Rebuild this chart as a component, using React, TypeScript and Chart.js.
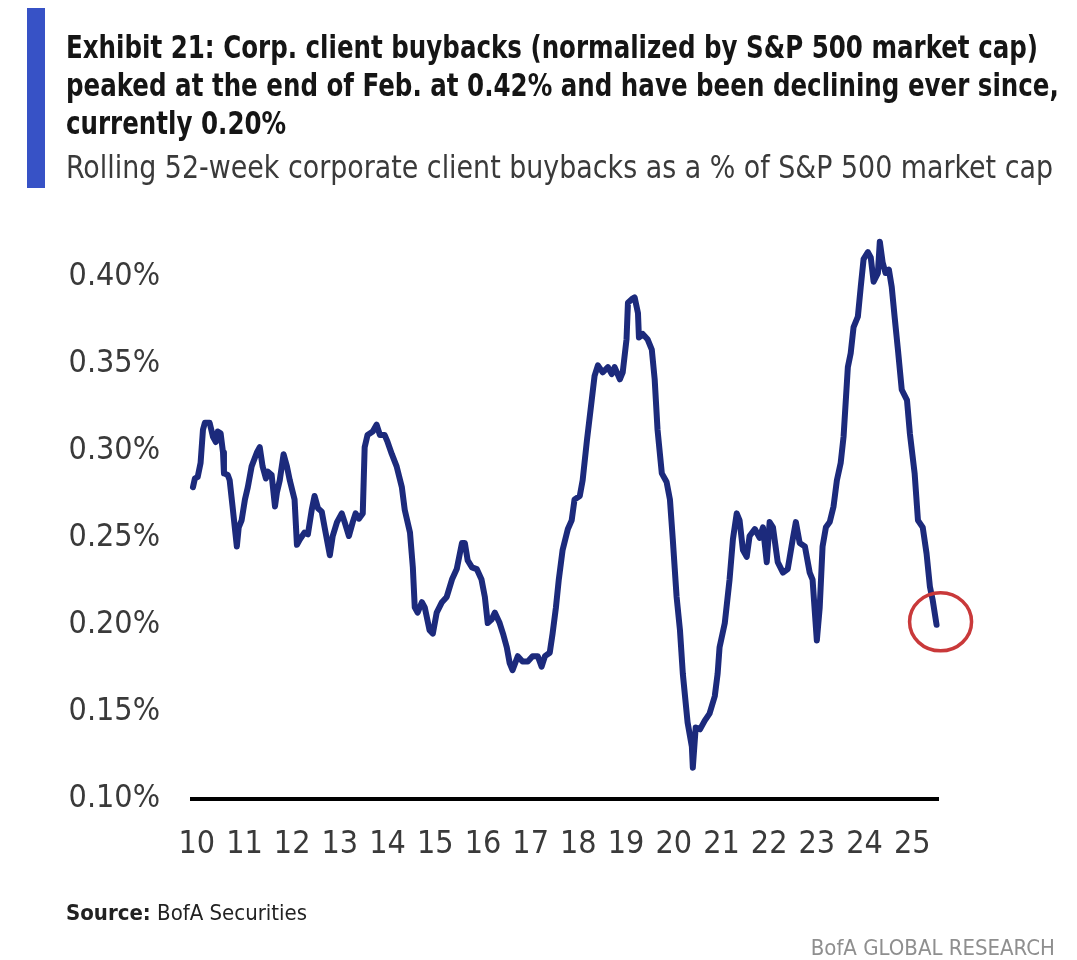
import React, { useEffect, useRef } from "react";
import { Chart, registerables } from "chart.js";

Chart.register(...registerables);

// Year positions (tick "10" = 2010) and rolling 52-week buybacks as % of S&P 500 market cap
const years: number[] = [
  9.92, 9.96, 10.02, 10.08, 10.13, 10.17, 10.27, 10.34, 10.40, 10.44, 10.50, 10.55, 10.57, 10.65, 10.69, 10.75,
  10.84, 10.88, 10.94, 11.01, 11.07, 11.15, 11.26, 11.32, 11.38, 11.45, 11.49, 11.57, 11.64, 11.68, 11.74, 11.82,
  11.89, 11.95, 12.05, 12.10, 12.16, 12.26, 12.33, 12.41, 12.47, 12.54, 12.62, 12.68, 12.79, 12.85, 12.94, 13.04,
  13.10, 13.19, 13.27, 13.33, 13.40, 13.48, 13.52, 13.58, 13.69, 13.77, 13.84, 13.94, 14.00, 14.09, 14.19, 14.30,
  14.36, 14.47, 14.53, 14.57, 14.63, 14.72, 14.78, 14.88, 14.95, 15.03, 15.14, 15.24, 15.35, 15.45, 15.56, 15.62,
  15.68, 15.77, 15.87, 15.97, 16.04, 16.10, 16.18, 16.25, 16.35, 16.42, 16.50, 16.56, 16.62, 16.73, 16.83, 16.94,
  17.04, 17.15, 17.23, 17.30, 17.40, 17.46, 17.53, 17.59, 17.67, 17.78, 17.86, 17.92, 18.03, 18.09, 18.18, 18.28,
  18.34, 18.41, 18.51, 18.62, 18.70, 18.76, 18.87, 18.93, 19.01, 19.04, 19.12, 19.18, 19.25, 19.27, 19.35, 19.45,
  19.54, 19.60, 19.66, 19.75, 19.85, 19.92, 19.98, 20.06, 20.13, 20.19, 20.29, 20.38, 20.40, 20.46, 20.55, 20.65,
  20.75, 20.86, 20.92, 20.96, 21.07, 21.17, 21.24, 21.32, 21.38, 21.45, 21.53, 21.59, 21.70, 21.80, 21.87, 21.95,
  22.01, 22.08, 22.18, 22.29, 22.39, 22.50, 22.56, 22.64, 22.75, 22.85, 22.91, 23.00, 23.06, 23.12, 23.19, 23.27,
  23.35, 23.42, 23.50, 23.56, 23.65, 23.71, 23.77, 23.86, 23.92, 23.98, 24.07, 24.13, 24.19, 24.28, 24.32, 24.38,
  24.44, 24.51, 24.57, 24.63, 24.70, 24.78, 24.89, 24.95, 25.05, 25.12, 25.22, 25.30, 25.37, 25.43, 25.51,
];

const buybackPct: number[] = [
  0.279, 0.284, 0.285, 0.293, 0.312, 0.316, 0.316, 0.308, 0.305, 0.311, 0.310, 0.299, 0.287, 0.286, 0.283, 0.268,
  0.245, 0.256, 0.260, 0.272, 0.279, 0.291, 0.299, 0.302, 0.291, 0.284, 0.288, 0.286, 0.268, 0.276, 0.283, 0.298,
  0.291, 0.283, 0.272, 0.246, 0.249, 0.253, 0.252, 0.266, 0.274, 0.267, 0.265, 0.256, 0.240, 0.251, 0.259, 0.264,
  0.259, 0.251, 0.259, 0.264, 0.261, 0.264, 0.302, 0.309, 0.311, 0.315, 0.309, 0.309, 0.305, 0.298, 0.291, 0.279,
  0.266, 0.253, 0.233, 0.210, 0.207, 0.213, 0.210, 0.197, 0.195, 0.207, 0.213, 0.216, 0.226, 0.232, 0.247, 0.247,
  0.237, 0.233, 0.232, 0.226, 0.216, 0.201, 0.203, 0.207, 0.201, 0.195, 0.187, 0.178, 0.174, 0.182, 0.179, 0.179,
  0.182, 0.182, 0.176, 0.182, 0.184, 0.195, 0.210, 0.226, 0.243, 0.255, 0.260, 0.272, 0.274, 0.283, 0.306, 0.329,
  0.343, 0.349, 0.345, 0.348, 0.344, 0.348, 0.341, 0.345, 0.364, 0.385, 0.387, 0.388, 0.379, 0.365, 0.367, 0.364,
  0.358, 0.341, 0.312, 0.287, 0.282, 0.272, 0.249, 0.216, 0.197, 0.172, 0.144, 0.130, 0.118, 0.141, 0.140, 0.145,
  0.149, 0.159, 0.172, 0.187, 0.201, 0.226, 0.249, 0.264, 0.260, 0.243, 0.239, 0.251, 0.255, 0.250, 0.256, 0.236,
  0.259, 0.256, 0.236, 0.230, 0.232, 0.250, 0.259, 0.247, 0.245, 0.230, 0.226, 0.191, 0.210, 0.245, 0.256, 0.259,
  0.268, 0.283, 0.293, 0.308, 0.348, 0.356, 0.371, 0.377, 0.394, 0.410, 0.414, 0.411, 0.397, 0.402, 0.420, 0.408,
  0.402, 0.404, 0.394, 0.377, 0.358, 0.335, 0.329, 0.310, 0.287, 0.260, 0.256, 0.241, 0.222, 0.214, 0.200,
];

const xTickYears: number[] = [10, 11, 12, 13, 14, 15, 16, 17, 18, 19, 20, 21, 22, 23, 24, 25];
const yTickValues: number[] = [0.1, 0.15, 0.2, 0.25, 0.3, 0.35, 0.4];

const titleLines: string[] = [
  "Exhibit 21: Corp. client buybacks (normalized by S&P 500 market cap)",
  "peaked at the end of Feb. at 0.42% and have been declining ever since,",
  "currently 0.20%",
];
const subtitle = "Rolling 52-week corporate client buybacks as a % of S&P 500 market cap";

const FONT = "'Liberation Sans Narrow', 'DejaVu Sans Condensed', 'Arial Narrow', sans-serif";

const endCirclePlugin = {
  id: "endCircle",
  afterDatasetsDraw(chart: any) {
    const meta = chart.getDatasetMeta(0);
    const last = meta.data[meta.data.length - 1];
    if (!last) return;
    const ctx = chart.ctx;
    ctx.save();
    ctx.beginPath();
    ctx.ellipse(last.x + 4, last.y - 3, 31, 29, 0, 0, Math.PI * 2);
    ctx.strokeStyle = "#c9393a";
    ctx.lineWidth = 3.5;
    ctx.stroke();
    ctx.restore();
  },
};

export default function App() {
  const canvasRef = useRef<HTMLCanvasElement | null>(null);
  const titleRef = useRef<HTMLDivElement | null>(null);
  const line1Ref = useRef<HTMLSpanElement | null>(null);
  const subRef = useRef<HTMLSpanElement | null>(null);

  useEffect(() => {
    // squeeze heading text horizontally to the reference's condensed width
    if (titleRef.current && line1Ref.current) {
      const w = line1Ref.current.getBoundingClientRect().width;
      if (w > 0) titleRef.current.style.transform = `scaleX(${972 / w})`;
    }
    if (subRef.current) {
      const w = subRef.current.getBoundingClientRect().width;
      if (w > 0) subRef.current.style.transform = `scaleX(${987 / w})`;
    }
  }, []);

  useEffect(() => {
    if (!canvasRef.current) return;
    const chart = new Chart(canvasRef.current, {
      type: "line",
      data: {
        datasets: [
          {
            data: years.map((x, i) => ({ x, y: buybackPct[i] })),
            borderColor: "#1c2a7c",
            borderWidth: 6,
            pointRadius: 0,
            tension: 0,
            fill: false,
            borderJoinStyle: "round",
            borderCapStyle: "round",
            clip: 10,
          } as any,
        ],
      },
      options: {
        animation: false,
        responsive: false,
        devicePixelRatio: 1,
        layout: { padding: { left: 0, right: 139, top: 233, bottom: 101 } },
        plugins: {
          legend: { display: false },
          tooltip: { enabled: false },
          title: { display: false },
        },
        scales: {
          x: {
            type: "linear",
            min: 9.9,
            max: 25.54,
            grid: { display: false, drawTicks: false },
            border: { display: true, color: "#000", width: 4 },
            afterBuildTicks: (s: any) => {
              s.ticks = xTickYears.map((v) => ({ value: v }));
            },
            afterFit: (s: any) => {
              s.height = 60;
            },
            ticks: {
              callback: (v: any) => String(v),
              font: { family: FONT, size: 32 },
              color: "#3a3a3a",
              padding: 26,
              maxRotation: 0,
              autoSkip: false,
            },
          },
          y: {
            type: "linear",
            min: 0.1,
            max: 0.425,
            grid: { display: false, drawTicks: false },
            border: { display: false },
            afterBuildTicks: (s: any) => {
              s.ticks = yTickValues.map((v) => ({ value: v }));
            },
            afterFit: (s: any) => {
              s.width = 192;
            },
            ticks: {
              callback: (v: any) => Number(v).toFixed(2) + "%",
              font: { family: FONT, size: 32 },
              color: "#3a3a3a",
              padding: 32,
            },
          },
        },
      } as any,
      plugins: [endCirclePlugin],
    });
    return () => chart.destroy();
  }, []);

  return (
    <div
      style={{
        position: "absolute",
        left: 0,
        top: 0,
        width: 1077,
        height: 960,
        background: "#fff",
        overflow: "hidden",
        fontFamily: FONT,
      }}
    >
      <canvas ref={canvasRef} width={1077} height={960} style={{ position: "absolute", left: 0, top: 0 }} />
      <div style={{ position: "absolute", left: 27, top: 8, width: 18, height: 180, background: "#3752c6" }} />
      <div
        ref={titleRef}
        style={{
          position: "absolute",
          left: 66,
          top: 28,
          fontSize: 32,
          lineHeight: "38px",
          fontWeight: 700,
          color: "#151515",
          whiteSpace: "nowrap",
          transformOrigin: "0 0",
        }}
      >
        {titleLines.map((t, i) => (
          <div key={i}>
            <span ref={i === 0 ? line1Ref : undefined}>{t}</span>
          </div>
        ))}
      </div>
      <div
        style={{
          position: "absolute",
          left: 66,
          top: 148,
          fontSize: 32,
          lineHeight: "38px",
          color: "#3a3a3a",
          whiteSpace: "nowrap",
        }}
      >
        <span ref={subRef} style={{ display: "inline-block", transformOrigin: "0 0" }}>
          {subtitle}
        </span>
      </div>
      <div
        style={{
          position: "absolute",
          left: 66,
          top: 900,
          fontSize: 22,
          lineHeight: "26px",
          color: "#222",
          whiteSpace: "nowrap",
        }}
      >
        <span style={{ fontWeight: 700 }}>Source:</span> BofA Securities
      </div>
      <div
        style={{
          position: "absolute",
          right: 22,
          top: 935,
          fontSize: 22,
          lineHeight: "26px",
          color: "#8f8f8f",
          whiteSpace: "nowrap",
        }}
      >
        BofA GLOBAL RESEARCH
      </div>
    </div>
  );
}
